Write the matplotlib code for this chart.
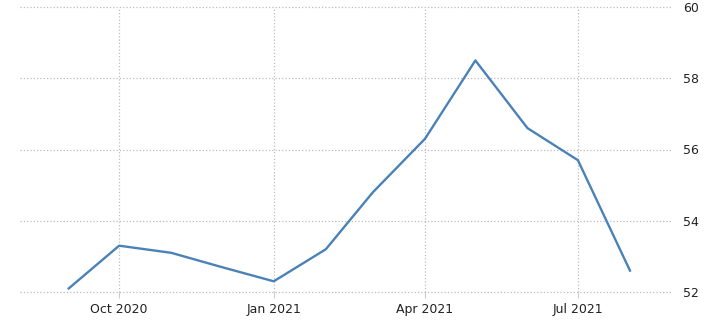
import numpy as np
import pandas as pd
import matplotlib
matplotlib.use("Agg")
import matplotlib.pyplot as plt
import matplotlib.dates as mdates

# monthly readings, Sep 2020 - Aug 2021
months = pd.date_range("2020-09-01", "2021-08-01", freq="MS")
values = [52.1, 53.3, 53.1, 52.7, 52.3, 53.2, 54.8, 56.3, 58.5, 56.6, 55.7, 52.6]
tick_dates = pd.to_datetime(["2020-10-01", "2021-01-01", "2021-04-01", "2021-07-01"])
tick_labels = ["Oct 2020", "Jan 2021", "Apr 2021", "Jul 2021"]
y_ticks = [52, 54, 56, 58, 60]

fig = plt.figure(figsize=(7.07, 3.23), dpi=100)
ax = fig.add_axes([20 / 707, 31 / 323, 652 / 707, 285 / 323])

ax.plot(months, values, color="#4a82b8", linewidth=1.7)

ax.set_ylim(52, 60)
ax.set_xlim(pd.Timestamp("2020-08-03"), pd.Timestamp("2021-08-26"))
ax.set_yticks(y_ticks)
ax.set_xticks(tick_dates)
ax.set_xticklabels(tick_labels)

ax.yaxis.tick_right()
ax.tick_params(axis="y", length=0, pad=8, labelsize=9, colors="#222222")
ax.tick_params(axis="x", length=4, color="#cccccc", pad=4, labelsize=9, colors="#222222")
for s in ax.spines.values():
    s.set_visible(False)
ax.grid(True, color="#bdbdbd", linestyle=":", linewidth=0.9)
for gl in ax.get_xgridlines() + ax.get_ygridlines():
    gl.set_clip_on(False)
ax.set_axisbelow(True)

fig.savefig("out.png", dpi=100)
